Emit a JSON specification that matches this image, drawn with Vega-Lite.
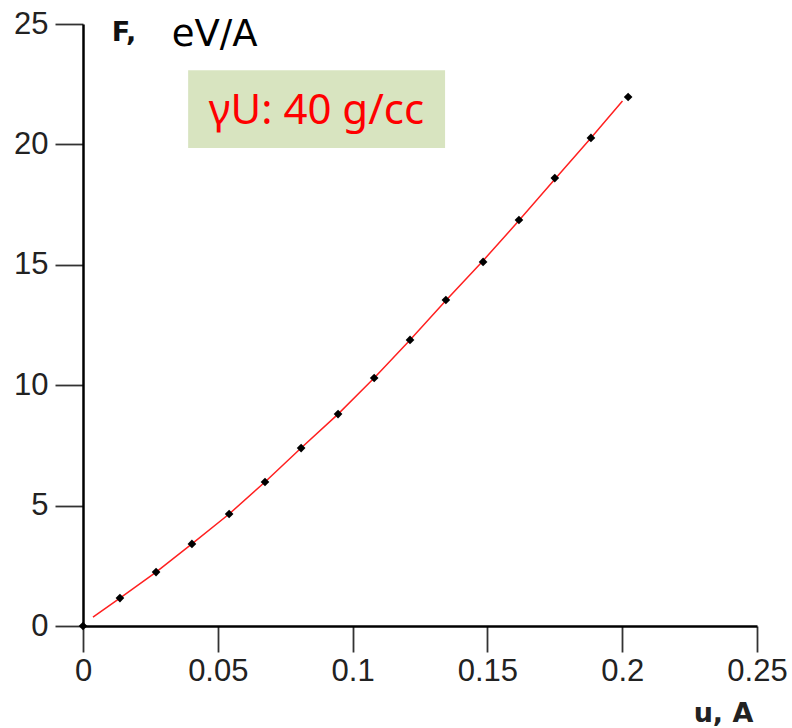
{
  "$schema": "https://vega.github.io/schema/vega-lite/v6.json",
  "width": 674,
  "height": 602,
  "autosize": {"type": "none"},
  "padding": {"left": 83, "top": 24, "right": 35, "bottom": 102},
  "background": "white",
  "config": {
    "view": {"stroke": null},
    "font": "Liberation Sans"
  },
  "datasets": {
    "measured": [
      {"u": 0.0, "F": 0.0},
      {"u": 0.0137, "F": 1.16},
      {"u": 0.0271, "F": 2.24},
      {"u": 0.0404, "F": 3.41},
      {"u": 0.0542, "F": 4.65},
      {"u": 0.0675, "F": 5.98},
      {"u": 0.0809, "F": 7.39},
      {"u": 0.0946, "F": 8.8},
      {"u": 0.108, "F": 10.3},
      {"u": 0.1213, "F": 11.88},
      {"u": 0.1346, "F": 13.54},
      {"u": 0.1484, "F": 15.12},
      {"u": 0.1617, "F": 16.86},
      {"u": 0.175, "F": 18.6},
      {"u": 0.1884, "F": 20.27},
      {"u": 0.2022, "F": 21.97}
    ],
    "fit": [
      {"u": 0.0037, "F": 0.37},
      {"u": 0.0137, "F": 1.16},
      {"u": 0.0271, "F": 2.24},
      {"u": 0.0404, "F": 3.41},
      {"u": 0.0542, "F": 4.65},
      {"u": 0.0675, "F": 5.98},
      {"u": 0.0809, "F": 7.39},
      {"u": 0.0946, "F": 8.8},
      {"u": 0.108, "F": 10.3},
      {"u": 0.1213, "F": 11.88},
      {"u": 0.1346, "F": 13.52},
      {"u": 0.1484, "F": 15.17},
      {"u": 0.1617, "F": 16.84},
      {"u": 0.175, "F": 18.55},
      {"u": 0.1884, "F": 20.27},
      {"u": 0.2001, "F": 21.8}
    ],
    "notes": [
      {"label": "γU: 40 g/cc", "u0": 0.0390, "u1": 0.1343, "F0": 19.85, "F1": 23.08, "uc": 0.0866, "Fc": 21.4}
    ],
    "labels": [
      {"text": "eV/A", "u": 0.0329, "F": 24.08, "kind": "unit"},
      {"text": "F,", "u": 0.0107, "F": 24.3, "kind": "yname"},
      {"text": "u, A", "u": 0.2265, "F": -3.98, "kind": "xname"}
    ]
  },
  "encoding": {
    "x": {
      "field": "u",
      "type": "quantitative",
      "scale": {"domain": [0, 0.25], "nice": false, "zero": false},
      "axis": {
        "values": [0, 0.05, 0.1, 0.15, 0.2, 0.25],
        "labelExpr": "datum.value == 0 ? '0' : format(datum.value, '.2~f')",
        "grid": false,
        "domainColor": "#000000",
        "domainWidth": 2.5,
        "tickColor": "#333333",
        "tickWidth": 1.8,
        "tickSize": 26,
        "labelFont": "Liberation Sans",
        "labelFontSize": 31,
        "labelColor": "#222222",
        "labelPadding": 4,
        "labelFlush": false,
        "labelOverlap": false,
        "title": null
      }
    },
    "y": {
      "field": "F",
      "type": "quantitative",
      "scale": {"domain": [0, 25], "nice": false, "zero": false},
      "axis": {
        "values": [0, 5, 10, 15, 20, 25],
        "grid": false,
        "domainColor": "#000000",
        "domainWidth": 2.5,
        "tickColor": "#333333",
        "tickWidth": 1.8,
        "tickSize": 28,
        "labelFont": "Liberation Sans",
        "labelFontSize": 31,
        "labelColor": "#222222",
        "labelPadding": 7,
        "labelFlush": false,
        "labelOverlap": false,
        "title": null
      }
    }
  },
  "layer": [
    {
      "data": {"name": "notes"},
      "mark": {"type": "rect", "color": "#d8e4c0"},
      "encoding": {
        "x": {"field": "u0", "type": "quantitative"},
        "x2": {"field": "u1"},
        "y": {"field": "F0", "type": "quantitative"},
        "y2": {"field": "F1"}
      }
    },
    {
      "data": {"name": "notes"},
      "mark": {"type": "text", "font": "Noto Sans", "fontSize": 42, "color": "#ff0000", "align": "center", "baseline": "middle"},
      "encoding": {
        "x": {"field": "uc", "type": "quantitative"},
        "y": {"field": "Fc", "type": "quantitative"},
        "text": {"field": "label"}
      }
    },
    {
      "data": {"name": "fit"},
      "mark": {"type": "line", "color": "#ff2020", "strokeWidth": 1.5, "interpolate": "linear"},
      "encoding": {}
    },
    {
      "data": {"name": "measured"},
      "mark": {"type": "point", "shape": "diamond", "filled": true, "color": "#000000", "size": 75, "opacity": 1},
      "encoding": {}
    },
    {
      "data": {"name": "labels"},
      "transform": [{"filter": "datum.kind == 'unit'"}],
      "mark": {"type": "text", "font": "DejaVu Sans", "fontSize": 37, "color": "#000000", "align": "left", "baseline": "alphabetic", "clip": false},
      "encoding": {"text": {"field": "text"}}
    },
    {
      "data": {"name": "labels"},
      "transform": [{"filter": "datum.kind == 'yname'"}],
      "mark": {"type": "text", "font": "DejaVu Sans", "fontSize": 27, "fontWeight": "bold", "color": "#111111", "align": "left", "baseline": "alphabetic", "clip": false},
      "encoding": {"text": {"field": "text"}}
    },
    {
      "data": {"name": "labels"},
      "transform": [{"filter": "datum.kind == 'xname'"}],
      "mark": {"type": "text", "font": "DejaVu Sans", "fontSize": 27, "fontWeight": "bold", "color": "#222222", "align": "left", "baseline": "alphabetic", "clip": false},
      "encoding": {"text": {"field": "text"}}
    }
  ]
}
